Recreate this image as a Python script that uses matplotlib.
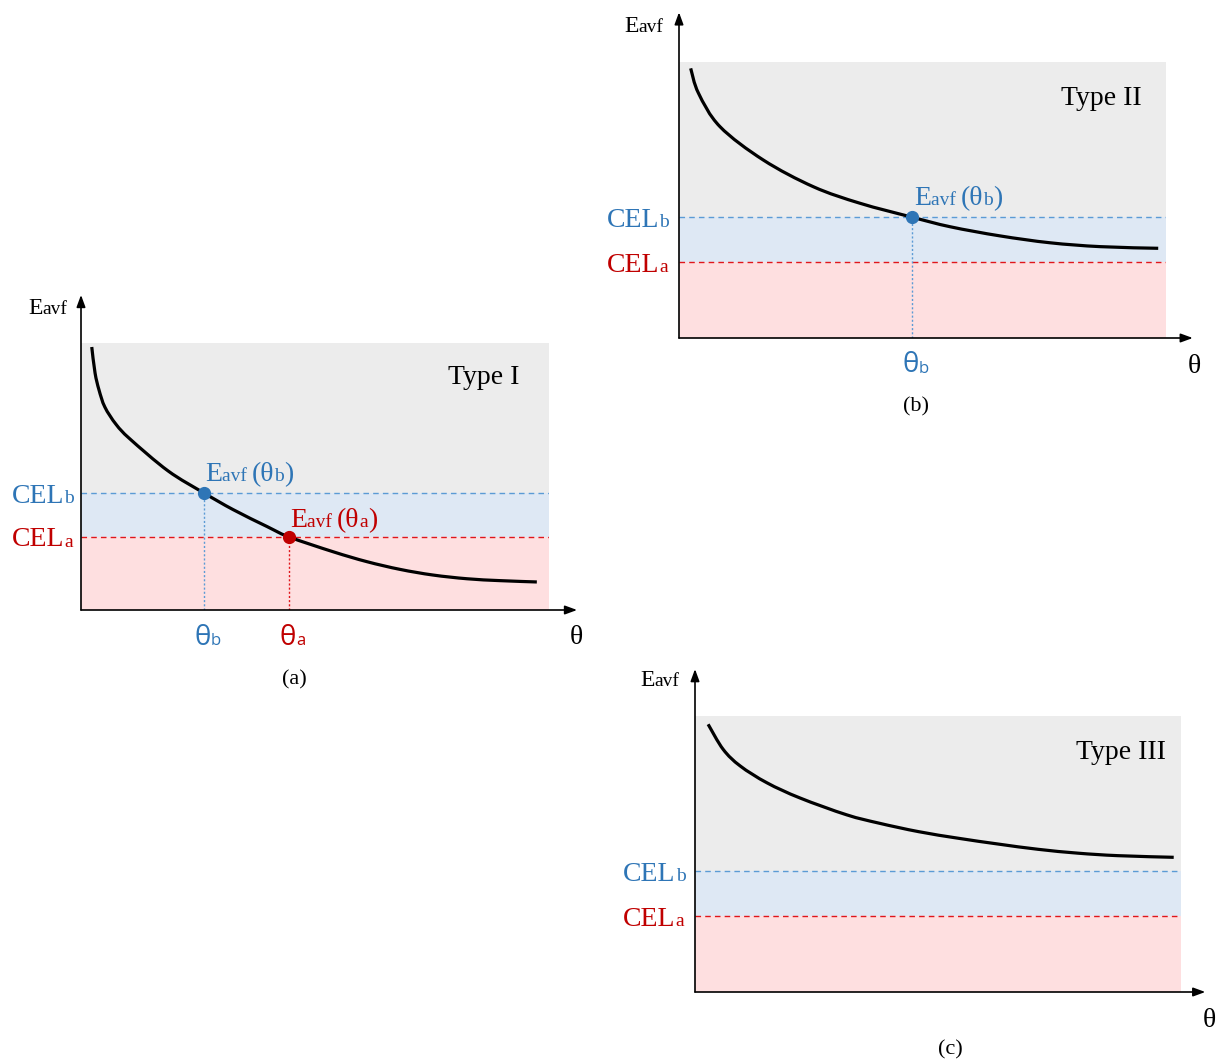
import matplotlib
matplotlib.use("Agg")
import matplotlib.pyplot as plt
from matplotlib.path import Path
from matplotlib.patches import PathPatch

# 三個示意面板的數值（單位：灰色區塊寬高各 10）
CEL_B = 4.38  # CEL_b 高度
CEL_A = 2.74  # CEL_a 高度

curve_a_x = [0.23, 0.30, 0.385, 0.51, 0.75, 1.05, 1.86, 2.63, 3.25, 3.97, 4.44, 5.39, 6.11, 6.82, 7.52, 8.25, 8.95, 9.74]
curve_a_y = [9.85, 8.88, 8.24, 7.60, 6.95, 6.40, 5.21, 4.38, 3.76, 3.13, 2.74, 2.18, 1.81, 1.52, 1.31, 1.17, 1.10, 1.05]
theta_b_a = 2.63
theta_a_a = 4.44

curve_b_x = [0.24, 0.40, 0.84, 1.73, 2.76, 3.72, 4.78, 5.57, 6.59, 7.62, 8.65, 9.84]
curve_b_y = [9.77, 8.87, 7.66, 6.45, 5.48, 4.88, 4.38, 4.03, 3.70, 3.45, 3.31, 3.25]
theta_b_b = 4.78

curve_c_x = [0.27, 0.58, 0.93, 1.48, 2.16, 3.12, 3.78, 4.60, 5.42, 6.24, 7.06, 7.88, 8.70, 9.85]
curve_c_y = [9.70, 8.79, 8.19, 7.58, 7.03, 6.42, 6.12, 5.81, 5.57, 5.36, 5.17, 5.03, 4.94, 4.88]

panel_titles = ["Type I", "Type II", "Type III"]
panel_tags = ["(a)", "(b)", "(c)"]

SERIF = ["Liberation Serif", "DejaVu Serif"]
SANS = ["Open Sans", "DejaVu Sans"]
BLUE_TXT = "#2E75B6"
RED_TXT = "#C00000"
BLUE_LN = "#5B9BD5"
RED_LN = "#E0161B"
GRAY_BG = "#ECECEC"
BLUE_BG = "#DEE8F4"
RED_BG = "#FEDFE0"

W, H = 1225, 1063
fig = plt.figure(figsize=(W / 100, H / 100), dpi=100)


def make_ax(left, top, width, height):
    # 以像素位置建立面板（灰色區塊的範圍）
    ax = fig.add_axes([left / W, 1 - (top + height) / H, width / W, height / H])
    ax.set_xlim(0, 10)
    ax.set_ylim(0, 10)
    ax.axis("off")
    return ax


def chain(ax, x, y, parts, color):
    # parts: (文字, 字級, 字型)；後續的字接在前一段右側，並與第一段對齊基線
    s, size0, fam = parts[0]
    first = ax.text(x, y, s, fontsize=size0, family=fam, color=color,
                    va="baseline", ha="left", clip_on=False)
    prev = first
    for s, size, fam in parts[1:]:
        dy = 0.22 * (size0 - size)
        prev = ax.annotate(s, xy=(1, 0), xycoords=(prev, first), xytext=(0, dy),
                           textcoords="offset points", fontsize=size, family=fam,
                           color=color, va="bottom", ha="left", annotation_clip=False)
    return first


def eavf(ax, x, y, color, sub):
    chain(ax, x, y, [("E", 20, SERIF), ("avf ", 14, SERIF), ("(θ", 20, SERIF),
                     (sub, 14, SERIF), (")", 20, SERIF)], color)


def theta_tick(ax, x, y, color, sub):
    chain(ax, x, y, [("θ", 20, SANS), (sub, 12, SANS)], color)


def smooth_curve(ax, xs, ys, **kw):
    # 以 Catmull-Rom 轉成三次貝茲曲線，讓讀取的點連成平滑曲線
    pts = list(zip(xs, ys))
    ext = [pts[0]] + pts + [pts[-1]]
    verts = [pts[0]]
    codes = [Path.MOVETO]
    for i in range(1, len(ext) - 2):
        p0, p1, p2, p3 = ext[i - 1], ext[i], ext[i + 1], ext[i + 2]
        c1 = (p1[0] + (p2[0] - p0[0]) / 6, p1[1] + (p2[1] - p0[1]) / 6)
        c2 = (p2[0] - (p3[0] - p1[0]) / 6, p2[1] - (p3[1] - p1[1]) / 6)
        verts += [c1, c2, p2]
        codes += [Path.CURVE4] * 3
    ax.add_patch(PathPatch(Path(verts, codes), fill=False, **kw))


def base_panel(ax, curve_x, curve_y, title, tag, tag_x, tag_y, xtip, ytip):
    ax.fill_between([0, 10], CEL_B, 10, color=GRAY_BG, lw=0, zorder=0)
    ax.fill_between([0, 10], CEL_A, CEL_B, color=BLUE_BG, lw=0, zorder=0)
    ax.fill_between([0, 10], 0, CEL_A, color=RED_BG, lw=0, zorder=0)
    ax.plot([0, 10], [CEL_B, CEL_B], color=BLUE_LN, lw=1.0, ls=(0, (4, 3)), zorder=2)
    ax.plot([0, 10], [CEL_A, CEL_A], color=RED_LN, lw=1.0, ls=(0, (4, 3)), zorder=2)
    smooth_curve(ax, curve_x, curve_y, edgecolor="black", lw=2.3, zorder=3, capstyle="butt")
    arrow = dict(arrowstyle="-|>,head_length=0.6,head_width=0.22", color="black",
                 lw=1.2, shrinkA=0, shrinkB=0, mutation_scale=12)
    ax.annotate("", xy=(xtip, 0), xytext=(0, 0), arrowprops=arrow, annotation_clip=False)
    ax.annotate("", xy=(0, ytip), xytext=(0, 0), arrowprops=arrow, annotation_clip=False)
    chain(ax, -1.13, 11.1, [("E", 17, SERIF), ("avf", 14, SERIF)], "black")
    chain(ax, -1.48, 4.02, [("CEL", 20, SERIF), ("b", 14, SERIF)], BLUE_TXT)
    chain(ax, -1.48, 2.38, [("CEL", 20, SERIF), ("a", 14, SERIF)], RED_TXT)
    ax.text(7.84, 8.45, title, fontsize=20, family=SERIF, ha="left", va="baseline")
    ax.text(10.45, -1.27, "θ", fontsize=20, family=SERIF, ha="left", va="baseline")
    ax.text(tag_x, tag_y, tag, fontsize=16, family=SERIF, ha="center", va="baseline")


# (a) Type I
ax_a = make_ax(81, 343, 468, 267)
base_panel(ax_a, curve_a_x, curve_a_y, panel_titles[0], panel_tags[0], 4.55, -2.8, 10.6, 11.8)
ax_a.plot([theta_b_a, theta_b_a], [0, CEL_B], color=BLUE_LN, lw=1.0, ls=(0, (1.5, 1.5)), zorder=2)
ax_a.plot([theta_a_a, theta_a_a], [0, CEL_A], color=RED_LN, lw=1.0, ls=(0, (1.5, 1.5)), zorder=2)
ax_a.plot([theta_b_a], [CEL_B], "o", color=BLUE_TXT, ms=8.5, zorder=4)
ax_a.plot([theta_a_a], [CEL_A], "o", color=RED_TXT, ms=8.5, zorder=4)
eavf(ax_a, 2.65, 4.83, BLUE_TXT, "b")
eavf(ax_a, 4.47, 3.11, RED_TXT, "a")
theta_tick(ax_a, 2.43, -1.3, BLUE_TXT, "b")
theta_tick(ax_a, 4.25, -1.3, RED_TXT, "a")

# (b) Type II
ax_b = make_ax(679, 62, 487, 276)
base_panel(ax_b, curve_b_x, curve_b_y, panel_titles[1], panel_tags[1], 4.87, -2.65, 10.55, 11.8)
ax_b.plot([theta_b_b, theta_b_b], [0, CEL_B], color=BLUE_LN, lw=1.0, ls=(0, (1.5, 1.5)), zorder=2)
ax_b.plot([theta_b_b], [CEL_B], "o", color=BLUE_TXT, ms=8.5, zorder=4)
eavf(ax_b, 4.83, 4.82, BLUE_TXT, "b")
theta_tick(ax_b, 4.58, -1.25, BLUE_TXT, "b")

# (c) Type III
ax_c = make_ax(695, 716, 486, 276)
base_panel(ax_c, curve_c_x, curve_c_y, panel_titles[2], panel_tags[2], 5.25, -2.25, 10.5, 11.7)

fig.savefig("out.png", dpi=100)
